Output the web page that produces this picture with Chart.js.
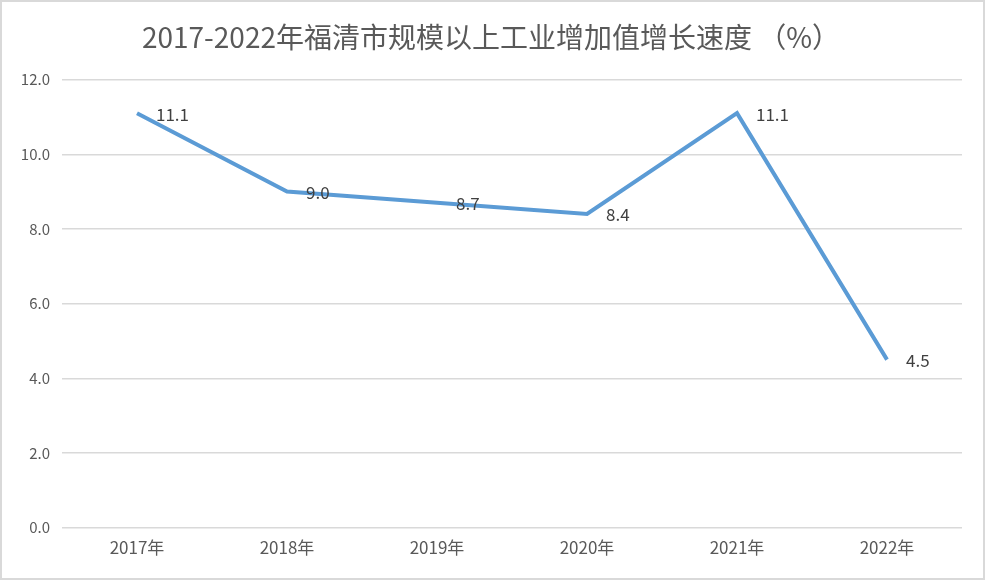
<!DOCTYPE html>
<html>
<head>
<meta charset="utf-8">
<script src="https://cdn.jsdelivr.net/npm/chart.js@4.4.0/dist/chart.umd.min.js"></script>
<style>
  html, body { margin: 0; padding: 0; background: #fff; }
  #wrap {
    width: 985px; height: 580px;
    box-sizing: border-box;
    border: 2px solid #d9d9d9;
    background: #fff;
  }
  canvas { display: block; }
</style>
</head>
<body>
<div id="wrap"><canvas id="chart" width="981" height="576"></canvas></div>
<script>
// ── DATA ─────────────────────────────────────────
const titleText = '2017-2022年福清市规模以上工业增加值增长速度 （%）';
const years = ['2017年', '2018年', '2019年', '2020年', '2021年', '2022年'];
const growth = [11.1, 9.0, 8.7, 8.4, 11.1, 4.5];

const FONT = '"Noto Sans CJK SC", "Noto Sans", sans-serif';
const TEXT = '#595959';

// ── data labels to the right of each point ───────
const pointLabels = {
  id: 'pointLabels',
  afterDatasetsDraw(chart) {
    const ctx = chart.ctx;
    const meta = chart.getDatasetMeta(0);
    ctx.save();
    ctx.font = '17px ' + FONT;
    ctx.fillStyle = '#404040';
    ctx.textAlign = 'left';
    ctx.textBaseline = 'middle';
    meta.data.forEach((pt, i) => {
      ctx.fillText(growth[i].toFixed(1), pt.x + 19, pt.y + 1);
    });
    ctx.restore();
  }
};

new Chart(document.getElementById('chart'), {
  type: 'line',
  data: {
    labels: years,
    datasets: [{
      data: growth,
      borderColor: '#5b9bd5',
      borderWidth: 4,
      pointRadius: 0,
      tension: 0,
      fill: false,
    }],
  },
  options: {
    responsive: false,
    animation: false,
    devicePixelRatio: 1,
    layout: { padding: { left: 18, right: 21, top: 0, bottom: 10 } },
    plugins: {
      legend: { display: false },
      tooltip: { enabled: false },
      title: {
        display: true,
        text: titleText,
        color: TEXT,
        font: { family: FONT, size: 28, weight: 'normal' },
        padding: { top: 19, bottom: 25 },
      },
    },
    scales: {
      x: {
        offset: true,
        grid: { display: false, drawTicks: false },
        border: { display: false },
        ticks: { color: TEXT, font: { family: FONT, size: 17 }, padding: 10 },
      },
      y: {
        min: 0,
        max: 12,
        afterFit: s => { s.width = 42; },
        grid: { color: '#d9d9d9', lineWidth: 1.5, drawTicks: false },
        border: { display: false },
        ticks: {
          stepSize: 2,
          color: TEXT,
          font: { family: FONT, size: 15 },
          padding: 12,
          callback: v => v.toFixed(1),
        },
      },
    },
  },
  plugins: [pointLabels],
});
</script>
</body>
</html>
